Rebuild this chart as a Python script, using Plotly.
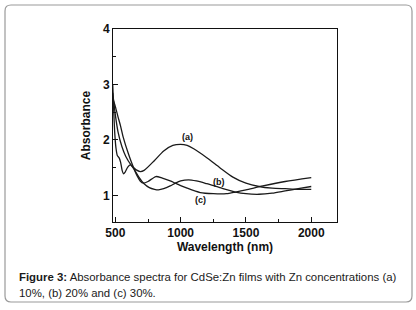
import plotly.graph_objects as go

# Data
wl_a = [480, 500, 520, 550, 580, 620, 660, 690, 720, 800, 870, 940, 1000, 1050, 1100, 1200, 1300, 1400, 1500, 1600, 1700, 1800, 1900, 2000]
abs_a = [2.85, 2.45, 2.15, 1.88, 1.70, 1.55, 1.46, 1.43, 1.45, 1.63, 1.80, 1.90, 1.92, 1.90, 1.84, 1.68, 1.50, 1.33, 1.22, 1.16, 1.13, 1.12, 1.11, 1.11]

wl_b = [480, 500, 520, 540, 560, 600, 640, 680, 720, 760, 800, 830, 870, 920, 960, 1000, 1060, 1120, 1200, 1300, 1420, 1500, 1600, 1700, 1800, 1900, 2000]
abs_b = [2.75, 2.60, 2.42, 2.25, 2.05, 1.75, 1.50, 1.33, 1.21, 1.14, 1.11, 1.10, 1.12, 1.17, 1.22, 1.26, 1.28, 1.26, 1.21, 1.14, 1.06, 1.03, 1.02, 1.04, 1.08, 1.12, 1.16]

wl_c = [480, 488, 496, 505, 515, 528, 540, 552, 562, 575, 595, 615, 640, 665, 690, 715, 750, 810, 860, 920, 960, 1050, 1150, 1250, 1350, 1420, 1500, 1630, 1800, 2000]
abs_c = [3.00, 2.50, 2.10, 1.85, 1.72, 1.68, 1.60, 1.45, 1.39, 1.42, 1.51, 1.55, 1.48, 1.36, 1.26, 1.22, 1.25, 1.34, 1.31, 1.26, 1.22, 1.13, 1.05, 1.03, 1.03, 1.06, 1.10, 1.17, 1.25, 1.32]

curve_labels = ["(a)", "(b)", "(c)"]
label_x = [1051, 1295, 1154]
label_y = [2.05, 1.25, 0.92]

x_ticks = [500, 1000, 1500, 2000]
y_ticks = [1, 2, 3, 4]

caption_bold = "Figure 3:"
caption_line1 = " Absorbance spectra for CdSe:Zn films with Zn concentrations (a)"
caption_line2 = "10%, (b) 20% and (c) 30%."

W, H = 416, 310
L, R, T, B = 113, 79, 29, 88
pw, ph = W - L - R, H - T - B

def px(x):
    return (x - L) / pw

def py(y):
    return 1 - (y - T) / ph

fig = go.Figure()
for xs, ys in [(wl_a, abs_a), (wl_b, abs_b), (wl_c, abs_c)]:
    fig.add_trace(go.Scatter(x=xs, y=ys, mode="lines",
                             line=dict(color="#1a1a1a", width=1.3, shape="spline", smoothing=0.7),
                             showlegend=False, hoverinfo="skip"))

for t, xx, yy in zip(curve_labels, label_x, label_y):
    fig.add_annotation(x=xx, y=yy, text="<b>%s</b>" % t, showarrow=False,
                       font=dict(family="Liberation Sans, Arial", size=9, color="#111"))

# caption
fig.add_annotation(xref="paper", yref="paper", x=px(17), y=py(277), xanchor="left", yanchor="middle",
                   text="<b>%s</b>%s" % (caption_bold, caption_line1), showarrow=False,
                   font=dict(family="Liberation Sans, Arial", size=11.4, color="#1a1a1a"))
fig.add_annotation(xref="paper", yref="paper", x=px(17), y=py(293), xanchor="left", yanchor="middle",
                   text=caption_line2, showarrow=False,
                   font=dict(family="Liberation Sans, Arial", size=11.4, color="#1a1a1a"))

# rounded border
x0, x1, y0, y1, r = 5, 412, 5, 302, 6
path = (f"M {px(x0+r)},{py(y0)} L {px(x1-r)},{py(y0)} Q {px(x1)},{py(y0)} {px(x1)},{py(y0+r)} "
        f"L {px(x1)},{py(y1-r)} Q {px(x1)},{py(y1)} {px(x1-r)},{py(y1)} "
        f"L {px(x0+r)},{py(y1)} Q {px(x0)},{py(y1)} {px(x0)},{py(y1-r)} "
        f"L {px(x0)},{py(y0+r)} Q {px(x0)},{py(y0)} {px(x0+r)},{py(y0)} Z")
fig.add_shape(type="path", xref="paper", yref="paper", path=path,
              line=dict(color="#9a9a9a", width=1.2), layer="below")

axis_font = dict(family="Liberation Sans, Arial", size=12, color="#111")
fig.update_layout(
    width=W, height=H, margin=dict(l=L, r=R, t=T, b=B),
    paper_bgcolor="white", plot_bgcolor="white",
    xaxis=dict(range=[482, 2197], tickvals=x_ticks, ticktext=["<b>%d</b>" % v for v in x_ticks],
               ticks="inside", ticklen=5, tickcolor="#111", tickwidth=1,
               minor=dict(dtick=250, tick0=0, ticks="inside", ticklen=3, tickcolor="#111"),
               showline=True, linecolor="#111", linewidth=1, mirror=True,
               showgrid=False, zeroline=False, tickfont=axis_font, automargin=False,
               title=dict(text="<b>Wavelength (nm)</b>", font=axis_font, standoff=0)),
    yaxis=dict(range=[0.52, 4.0], tickvals=y_ticks, ticktext=["<b>%d</b>" % v for v in y_ticks],
               ticks="inside", ticklen=5, tickcolor="#111", tickwidth=1,
               minor=dict(dtick=0.5, tick0=0, ticks="inside", ticklen=3, tickcolor="#111"),
               showline=True, linecolor="#111", linewidth=1, mirror=True,
               showgrid=False, zeroline=False, tickfont=axis_font, automargin=False,
               title=dict(text="<b>Absorbance</b>", font=axis_font, standoff=9)),
)
fig.write_html("out.html", config={"displayModeBar": False, "staticPlot": True},
               post_script="document.body.style.margin='0';document.body.style.overflow='hidden';")
